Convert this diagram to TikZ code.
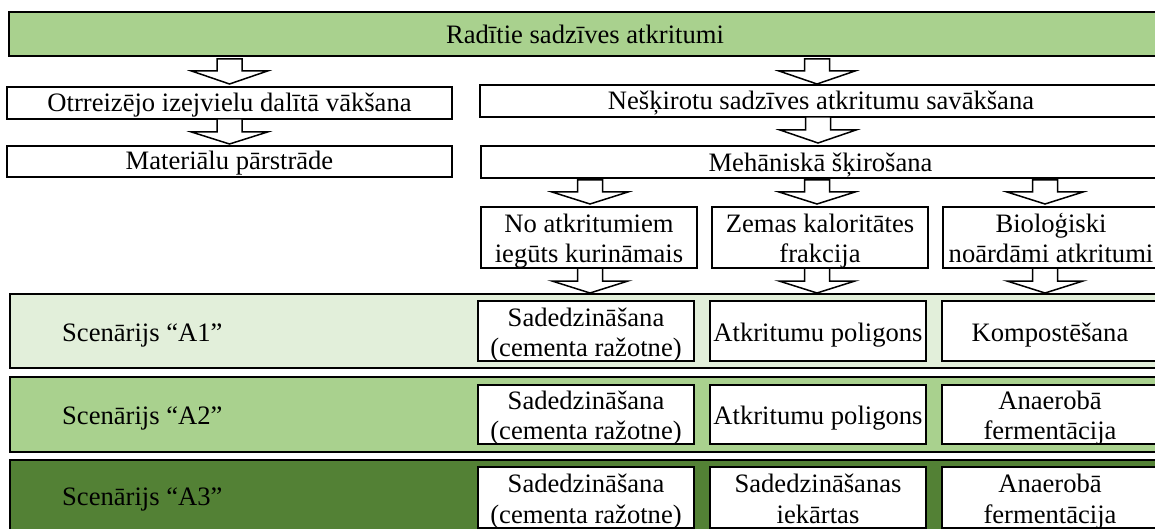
\documentclass[tikz,border=0pt]{standalone}
\usepackage{fontspec}
\setmainfont{Liberation Serif}
\usetikzlibrary{calc}
\definecolor{gmid}{HTML}{A9D18E}
\definecolor{glight}{HTML}{E2EFDA}
\definecolor{gdark}{HTML}{538135}
\newcommand{\BArrow}[4]{% cx, ytop, yshoulder, ytip
  \draw[barrow] ({#1-12.5},#2) -- ({#1+12.5},#2) -- ({#1+12.5},#3) -- ({#1+38},#3)
    -- (#1,#4) -- ({#1-38},#3) -- ({#1-12.5},#3) -- cycle;}
\tikzset{
  barrow/.style={draw=black, fill=white, line width=1.5pt, line join=miter},
  boxw/.style={draw=black, fill=white, line width=1.6pt, inner sep=0pt, rectangle},
  band/.style={draw=black, line width=2pt, inner sep=0pt, rectangle},
  txt/.style={inner sep=0pt, anchor=base, font=\fontsize{26.6}{30}\selectfont},
  txtw/.style={txt, anchor=base west}
}
\begin{document}
\begin{tikzpicture}[x=1pt,y=-1pt]
\useasboundingbox (0,0) rectangle (1155,529);
\clip (0,0) rectangle (1155,529);

% top bar
\node[band, fill=gmid, line width=2.4pt, minimum width=1161pt, minimum height=44pt] (top) at (589.5,34) {};
\node[txt] (topt) at (585,44) {Radītie sadzīves atkritumi};

% left column
\node[boxw, minimum width=445pt, minimum height=32pt] (o1) at (229.5,103) {};
\node[txt] (o1t) at (229.5,112) {Otrreizējo izejvielu dalītā vākšana};
\node[boxw, minimum width=445pt, minimum height=31pt] (o2) at (229.5,161.5) {};
\node[txt] (o2t) at (229.5,170) {Materiālu pārstrāde};

% right column
\node[boxw, minimum width=682pt, minimum height=32pt] (n1) at (821,101) {};
\node[txt] (n1t) at (821,110) {Nešķirotu sadzīves atkritumu savākšana};
\node[boxw, minimum width=681pt, minimum height=32pt] (n2) at (821.5,162) {};
\node[txt] (n2t) at (820.5,171.5) {Mehāniskā šķirošana};

% fractions
\node[boxw, minimum width=216pt, minimum height=61pt] (k1) at (589,237.5) {};
\node[txt] (k1a) at (589,233) {No atkritumiem};
\node[txt] (k1b) at (589,262) {iegūts kurināmais};
\node[boxw, minimum width=216pt, minimum height=61pt] (k2) at (820,237.5) {};
\node[txt] (k2a) at (820,233) {Zemas kaloritātes};
\node[txt] (k2b) at (820,262) {frakcija};
\node[boxw, minimum width=216pt, minimum height=61pt] (k3) at (1051,237.5) {};
\node[txt] (k3a) at (1051,233) {Bioloģiski};
\node[txt] (k3b) at (1051,262) {noārdāmi atkritumi};

% scenario bands
\node[band, fill=glight, minimum width=1160pt, minimum height=74pt] (b1) at (590,331) {};
\node[txtw] (b1t) at (62,341) {Scenārijs “A1”};
\node[band, fill=gmid, minimum width=1160pt, minimum height=75pt] (b2) at (590,414.5) {};
\node[txtw] (b2t) at (62,424) {Scenārijs “A2”};
\node[band, fill=gdark, minimum width=1160pt, minimum height=85pt] (b3) at (590,502.5) {};
\node[txtw] (b3t) at (62,505) {Scenārijs “A3”};

% A1
\node[boxw, minimum width=216pt, minimum height=60pt] (s11) at (586,331) {};
\node[txt] (s11a) at (586,326) {Sadedzināšana};
\node[txt] (s11b) at (586,356) {(cementa ražotne)};
\node[boxw, minimum width=216pt, minimum height=60pt] (s12) at (818,331) {};
\node[txt] (s12t) at (818,341) {Atkritumu poligons};
\node[boxw, minimum width=216pt, minimum height=60pt] (s13) at (1050,331) {};
\node[txt] (s13t) at (1050,341) {Kompostēšana};

% A2
\node[boxw, minimum width=216pt, minimum height=59pt] (s21) at (586,414.5) {};
\node[txt] (s21a) at (586,409) {Sadedzināšana};
\node[txt] (s21b) at (586,439) {(cementa ražotne)};
\node[boxw, minimum width=216pt, minimum height=59pt] (s22) at (818,414.5) {};
\node[txt] (s22t) at (818,424) {Atkritumu poligons};
\node[boxw, minimum width=216pt, minimum height=59pt] (s23) at (1050,414.5) {};
\node[txt] (s23a) at (1050,409) {Anaerobā};
\node[txt] (s23b) at (1050,439) {fermentācija};

% A3
\node[boxw, minimum width=216pt, minimum height=61pt] (s31) at (586,497.5) {};
\node[txt] (s31a) at (586,492) {Sadedzināšana};
\node[txt] (s31b) at (586,523) {(cementa ražotne)};
\node[boxw, minimum width=216pt, minimum height=61pt] (s32) at (818,497.5) {};
\node[txt] (s32a) at (818,492) {Sadedzināšanas};
\node[txt] (s32b) at (818,523) {iekārtas};
\node[boxw, minimum width=216pt, minimum height=61pt] (s33) at (1050,497.5) {};
\node[txt] (s33a) at (1050,492) {Anaerobā};
\node[txt] (s33b) at (1050,523) {fermentācija};

% block arrows
\BArrow{229.5}{59}{71}{84}
\BArrow{229.5}{119}{132}{144}
\BArrow{817}{59}{71}{84}
\BArrow{818}{117}{130}{143}
\BArrow{590}{180}{192}{204}
\BArrow{817}{180}{192}{204}
\BArrow{1045}{180}{192}{204}
\BArrow{590}{268}{281}{293}
\BArrow{817}{268}{281}{293}
\BArrow{1045}{268}{281}{293}
\end{tikzpicture}
\end{document}
